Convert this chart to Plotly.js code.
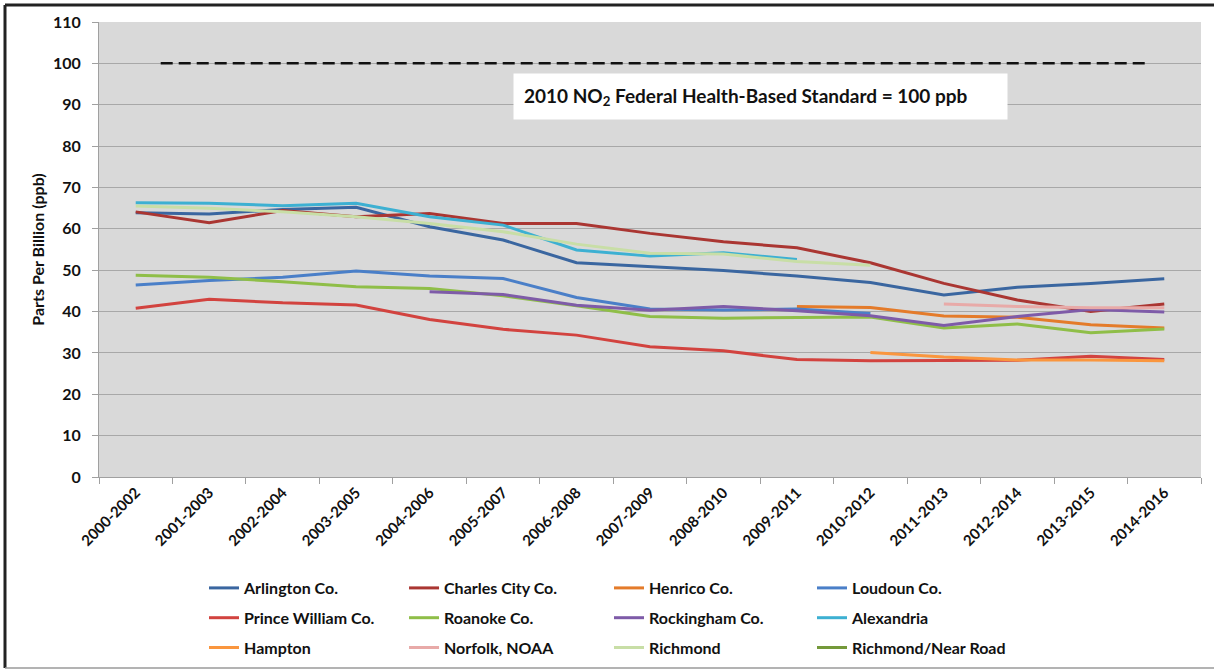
<!DOCTYPE html>
<html>
<head>
<meta charset="utf-8">
<script src="https://cdn.plot.ly/plotly-3.0.1.min.js"></script>
<style>
  html, body { margin: 0; padding: 0; background: #fff; }
  #chart { width: 1214px; height: 670px; }
</style>
</head>
<body>
<div id="chart"></div>
<script>
// ---- Data ----
const periods = ["2000-2002","2001-2003","2002-2004","2003-2005","2004-2006","2005-2007","2006-2008",
                 "2007-2009","2008-2010","2009-2011","2010-2012","2011-2013","2012-2014","2013-2015","2014-2016"];

const arlington     = [63.9, 63.6, 64.7, 65.2, 60.5, 57.3, 51.8, 50.8, 49.9, 48.6, 47.0, 44.0, 45.9, 46.8, 47.9];
const charlesCity   = [64.1, 61.5, 64.4, 62.9, 63.7, 61.3, 61.3, 58.9, 56.9, 55.4, 51.8, 46.8, 42.8, 40.0, 41.8];
const henrico       = [null, null, null, null, null, null, null, null, null, 41.2, 41.0, 38.9, 38.6, 36.8, 36.0];
const loudoun       = [46.4, 47.5, 48.3, 49.8, 48.6, 48.0, 43.4, 40.6, 40.4, 40.6, 39.5, null, null, null, null];
const princeWilliam = [40.8, 43.0, 42.1, 41.6, 38.1, 35.7, 34.3, 31.5, 30.5, 28.4, 28.1, 28.2, 28.2, 29.2, 28.4];
const roanoke       = [48.8, 48.3, 47.2, 46.0, 45.6, 43.8, 41.4, 38.8, 38.4, 38.5, 38.7, 36.0, 37.0, 34.9, 35.8];
const rockingham    = [null, null, null, null, 44.8, 44.1, 41.5, 40.3, 41.2, 40.2, 39.0, 36.6, 38.8, 40.5, 39.9];
const alexandria    = [66.3, 66.2, 65.6, 66.2, 62.9, 60.9, 54.9, 53.4, 54.2, 52.6, null, null, null, null, null];
const hampton       = [null, null, null, null, null, null, null, null, null, null, 30.1, 29.0, 28.3, 28.3, 28.1];
const norfolk       = [null, null, null, null, null, null, null, null, null, null, null, 41.8, 41.2, 40.9, 40.9];
const richmond      = [65.5, 65.0, 64.1, 62.9, 61.3, 59.3, 56.3, 54.1, 53.9, 52.1, 51.2, null, null, null, null];
const richmondNearRoad = [null, null, null, null, null, null, null, null, null, null, null, null, null, null, null];

const yTicks = [0, 10, 20, 30, 40, 50, 60, 70, 80, 90, 100, 110];
const standardValue = 100;
const standardLabel = "2010 NO<sub>2</sub> Federal Health-Based Standard = 100 ppb";

// ---- Series definitions (name, data, color, legend column) ----
const series = [
  ["Arlington Co.",        arlington,        "#3A66A0", "legend"],
  ["Charles City Co.",     charlesCity,      "#AA3632", "legend2"],
  ["Henrico Co.",          henrico,          "#E47B2A", "legend3"],
  ["Loudoun Co.",          loudoun,          "#4A7FC8", "legend4"],
  ["Prince William Co.",   princeWilliam,    "#D2433F", "legend"],
  ["Roanoke Co.",          roanoke,          "#8FBE48", "legend2"],
  ["Rockingham Co.",       rockingham,       "#7E5BA8", "legend3"],
  ["Alexandria",           alexandria,       "#3DB0D2", "legend4"],
  ["Hampton",              hampton,          "#FA963E", "legend"],
  ["Norfolk, NOAA",        norfolk,          "#E8AAA8", "legend2"],
  ["Richmond",             richmond,         "#C8DEA6", "legend3"],
  ["Richmond/Near Road",   richmondNearRoad, "#74993A", "legend4"]
];

const FONT = "Lato, 'Open Sans', 'DejaVu Sans', sans-serif";

const traces = series.map((s, i) => ({
  type: "scatter",
  mode: "lines",
  name: s[0],
  x: periods,
  y: s[1],
  line: { color: s[2], width: 3 },
  connectgaps: false,
  legend: s[3],
  legendgroup: "g" + i,
  hoverinfo: "x+y+name"
}));

const legendFont = { family: FONT, size: 16, color: "#111", weight: "bold" };
function legendAt(x) {
  return {
    x: x, y: -0.2066, xref: "paper", yref: "paper",
    xanchor: "left", yanchor: "top",
    orientation: "v",
    traceorder: "grouped",
    tracegroupgap: 6,
    bgcolor: "rgba(0,0,0,0)",
    borderwidth: 0,
    font: legendFont,
    itemwidth: 30
  };
}

const layout = {
  width: 1214,
  height: 670,
  margin: { l: 99, r: 13, t: 22, b: 193, autoexpand: false },
  paper_bgcolor: "#ffffff",
  plot_bgcolor: "#D9D9D9",
  font: { family: FONT, color: "#111" },
  showlegend: true,
  legend: legendAt(0.0953),
  legend2: legendAt(0.2768),
  legend3: legendAt(0.4628),
  legend4: legendAt(0.6470),
  xaxis: {
    type: "category",
    categoryorder: "array",
    categoryarray: periods,
    range: [-0.5, periods.length - 0.5],
    tickson: "boundaries",
    ticks: "outside",
    ticklen: 6,
    tickcolor: "#A0A0A0",
    showline: true,
    linecolor: "#A0A0A0",
    linewidth: 1,
    showgrid: false,
    automargin: false,
    tickangle: -45,
    tickfont: { family: FONT, size: 15, color: "#111", weight: "bold" },
    zeroline: false
  },
  yaxis: {
    range: [0, 110],
    tickvals: yTicks,
    ticktext: yTicks.map(String),
    ticks: "outside",
    ticklen: 6,
    tickcolor: "#A0A0A0",
    ticklabelstandoff: 8,
    showline: true,
    linecolor: "#A0A0A0",
    linewidth: 1,
    showgrid: true,
    gridcolor: "#A8A8A8",
    gridwidth: 1,
    zeroline: false,
    automargin: false,
    tickfont: { family: FONT, size: 16, color: "#111", weight: "bold" },
    title: {
      text: "Parts Per Billion (ppb)",
      font: { family: FONT, size: 16, color: "#111", weight: "bold" },
      standoff: 4
    }
  },
  shapes: [
    // 2010 NO2 standard reference line
    { type: "line", xref: "x", yref: "y", x0: 0.34, x1: 13.77, y0: standardValue, y1: standardValue,
      line: { color: "#111", width: 2.5, dash: "12px,6px" } },
    // outer frame (top, left, bottom)
    { type: "line", xref: "paper", yref: "paper", x0: -0.0853, x1: 1.0118, y0: 1.0374, y1: 1.0374,
      line: { color: "#222", width: 3 } },
    { type: "line", xref: "paper", yref: "paper", x0: -0.0853, x1: -0.0853, y0: 1.0374, y1: -0.4198,
      line: { color: "#222", width: 3 } },
    { type: "line", xref: "paper", yref: "paper", x0: -0.0853, x1: 1.0118, y0: -0.4198, y1: -0.4198,
      line: { color: "#9A9A9A", width: 1.5 } }
  ],
  annotations: [
    {
      xref: "paper", yref: "paper",
      x: 0.3757, y: 0.888, xanchor: "left", yanchor: "top",
      text: standardLabel,
      showarrow: false,
      align: "left",
      bgcolor: "#ffffff",
      borderpad: 10,
      width: 473,
      height: 25,
      font: { family: FONT, size: 19, color: "#111", weight: "bold" }
    }
  ]
};

Plotly.newPlot("chart", traces, layout, { displayModeBar: false, staticPlot: true });
</script>
</body>
</html>
